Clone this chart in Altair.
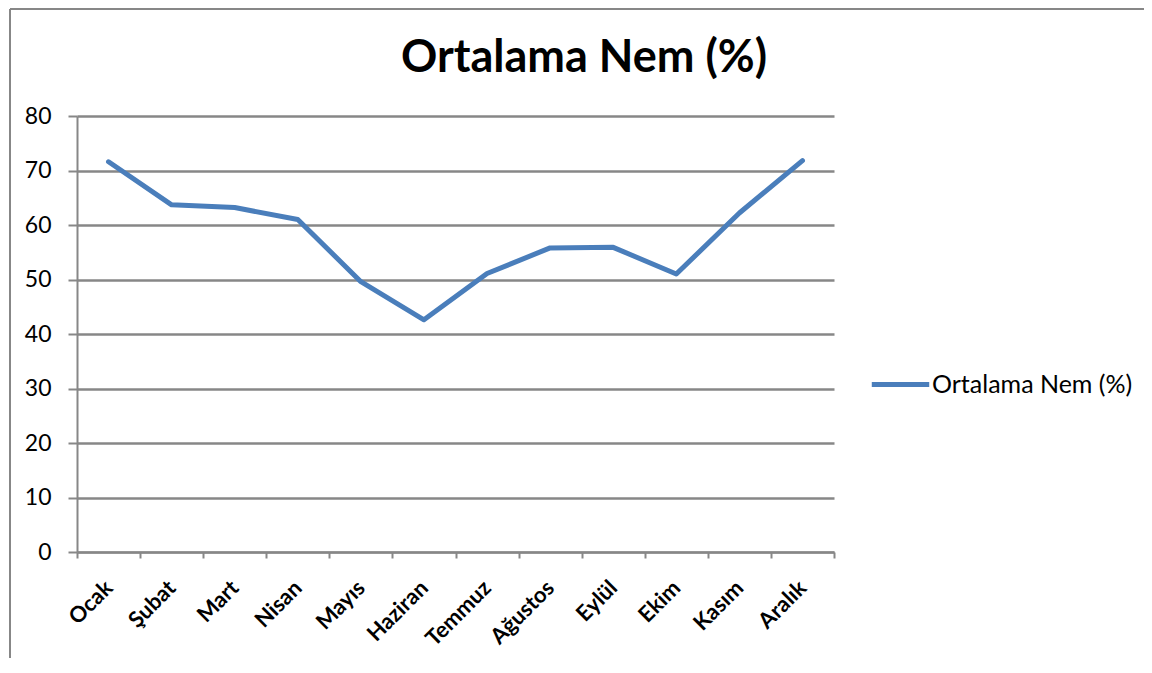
import altair as alt
import pandas as pd

months = ["Ocak", "Şubat", "Mart", "Nisan", "Mayıs", "Haziran",
          "Temmuz", "Ağustos", "Eylül", "Ekim", "Kasım", "Aralık"]
values = [71.6, 63.7, 63.2, 61.0, 49.6, 42.6, 51.1, 55.8, 55.9, 51.0, 62.2, 71.8]
series_name = "Ortalama Nem (%)"
y_ticks = [0, 10, 20, 30, 40, 50, 60, 70, 80]

df = pd.DataFrame({"Ay": months, "Nem": values, "Seri": [series_name] * len(months)})

W, H = 757, 436
PAD_L, PAD_T = 69, 108
TOTAL_W, TOTAL_H = 1136, 650
FONT = "Lato"
GRAY = "#878787"

line = alt.Chart(df).mark_line(strokeWidth=5, strokeJoin="round", strokeCap="round").encode(
    x=alt.X("Ay:N", sort=months, title=None,
            scale=alt.Scale(paddingInner=0, paddingOuter=0),
            axis=alt.Axis(labelAngle=315, labelAlign="right", labelBaseline="middle",
                          labelFont=FONT, labelFontWeight="bold", labelFontSize=22,
                          labelColor="#000000", labelPadding=26, labelOffset=0,
                          tickBand="extent", tickSize=6, tickColor=GRAY, tickWidth=2,
                          domainColor=GRAY, domainWidth=2, grid=False)),
    y=alt.Y("Nem:Q", title=None,
            scale=alt.Scale(domain=[0, 80], nice=False),
            axis=alt.Axis(values=y_ticks, labelFont=FONT, labelFontSize=23,
                          labelColor="#000000", labelPadding=17,
                          tickSize=9, tickColor=GRAY, tickWidth=2,
                          domainColor=GRAY, domainWidth=2,
                          grid=True, gridColor=GRAY, gridWidth=2.5)),
    color=alt.Color("Seri:N", scale=alt.Scale(range=["#4A7EBB"]),
                    legend=alt.Legend(title=None, orient="none", legendX=792, legendY=237,
                                      symbolType="stroke", symbolSize=3300,
                                      symbolStrokeWidth=5, labelFont=FONT,
                                      labelFontSize=25, labelColor="#000000",
                                      labelOffset=0, labelLimit=400)),
)

title_df = alt.Data(values=[{"t": series_name}])
title = alt.Chart(title_df).mark_text(font=FONT, fontSize=45, fontWeight="bold",
                                      color="#000000", align="center",
                                      baseline="middle").encode(
    text="t:N", x=alt.value(507), y=alt.value(-58))

border_df = alt.Data(values=[{"k": 1}])
left_border = alt.Chart(border_df).mark_rule(color=GRAY, strokeWidth=2).encode(
    x=alt.value(-PAD_L + 2), y=alt.value(-PAD_T + 1), y2=alt.value(TOTAL_H - PAD_T))
top_border = alt.Chart(border_df).mark_rule(color=GRAY, strokeWidth=2).encode(
    x=alt.value(-PAD_L + 2), x2=alt.value(TOTAL_W - PAD_L), y=alt.value(-PAD_T + 1))

chart = alt.layer(line, title, left_border, top_border).properties(
    width=W, height=H,
    autosize=alt.AutoSizeParams(type="none"),
    padding={"left": PAD_L, "top": PAD_T, "right": TOTAL_W - PAD_L - W,
             "bottom": TOTAL_H - PAD_T - H},
).configure_view(strokeWidth=0)

chart.save("out.html", embed_options={"renderer": "svg", "actions": False})
